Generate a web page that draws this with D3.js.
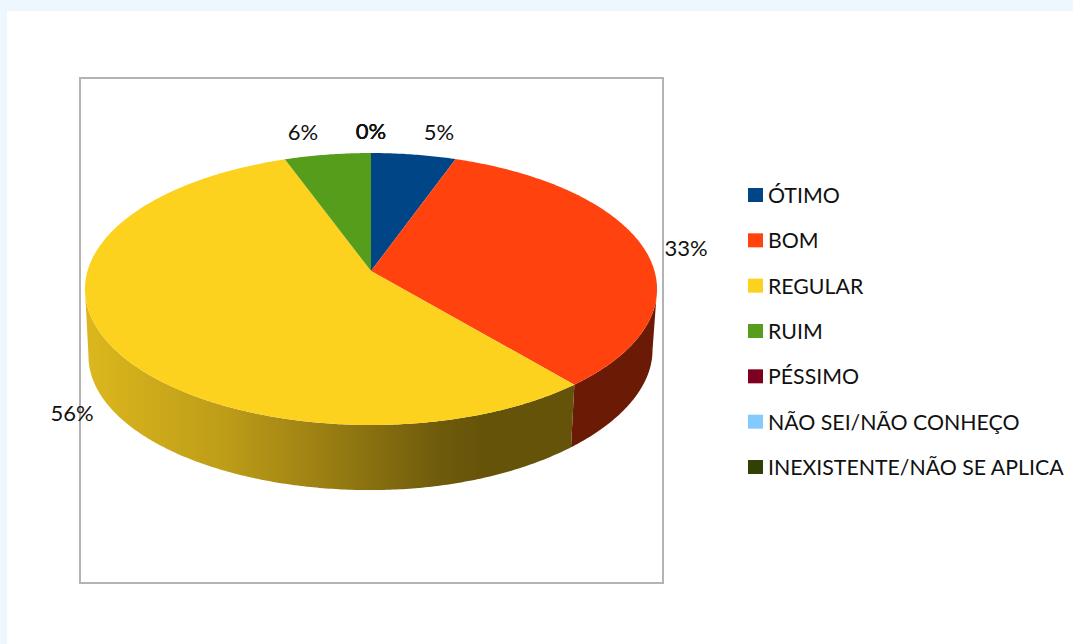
<!DOCTYPE html>
<html><head><meta charset="utf-8">
<script src="https://cdn.jsdelivr.net/npm/d3@7"></script>
<style>html,body{margin:0;padding:0;background:#fff}svg{display:block}text{font-family:Lato,sans-serif;fill:#111}</style>
</head><body>
<script>
const categories=["ÓTIMO","BOM","REGULAR","RUIM","PÉSSIMO","NÃO SEI/NÃO CONHEÇO","INEXISTENTE/NÃO SE APLICA"];
const values=[5.45,33.4,55.6,5.55,0,0,0];
const colors=["#004586","#ff420e","#fdd21f","#579d1c","#7e0021","#83caff","#314004"];
const sideColors=["#002243","#6a1a05",null,"#2b4e0e","#3f0010","#416580","#181f02"];
const labelAnchors=[[439,133],[686,249],[72,414],[303,133],[371,132],[371,132],[371,132]];

const W=1073,H=644;
const svg=d3.select("body").append("svg").attr("width",W).attr("height",H);
svg.append("rect").attr("width",W).attr("height",H).attr("fill","#eef6fe");
svg.append("rect").attr("x",7).attr("y",11).attr("width",W-7).attr("height",H-11).attr("fill","#fff");
svg.append("rect").attr("x",80).attr("y",78).attr("width",583).attr("height",505).attr("fill","#fff").attr("stroke","#b3b3b3").attr("stroke-width",2);

const pie=d3.pie().sort(null).value(d=>d)(values);

// projective view of the disc
const cx=371,apexY=271,a=283.5,b=133.6,k=-0.1325;
const project=(t)=>{const u=Math.sin(t),v=-Math.cos(t),D=1+k*v;return [cx+a*u/D,apexY+b*v/D];};
const depth=65,shrink=282/286,bcx=370.5,ellCy=289;
const projectLow=(t)=>{const p=project(t),dx=(p[0]-cx)*shrink,dy=(p[1]-ellCy)*shrink;
  return [bcx+dx,ellCy+depth+2+dy-7.5e-5*Math.max(0,dx)**2];};
const samples=(s,e,f)=>{const n=Math.max(2,Math.ceil((e-s)/0.01));return d3.range(n+1).map(i=>f(s+(e-s)*i/n));};
const line=d3.line();

const defs=svg.append("defs");
const grad=defs.append("linearGradient").attr("id","sideGrad").attr("gradientUnits","userSpaceOnUse").attr("x1",85).attr("x2",575).attr("y1",0).attr("y2",0);
[[0,"#dcb71d"],[0.29,"#bd9c18"],[0.52,"#957a12"],[0.72,"#6f5b0c"],[0.82,"#655309"],[1,"#655309"]].forEach(s=>grad.append("stop").attr("offset",s[0]).attr("stop-color",s[1]));

// side walls: only the part facing the viewer, between the outline's extreme points
const faceFrom=Math.acos(k),faceTo=2*Math.PI-Math.acos(k);
svg.append("g").selectAll("path").data(pie.filter(d=>d.value>0)).join("path")
 .attr("d",d=>{const s=Math.max(d.startAngle,faceFrom),e=Math.min(d.endAngle,faceTo);
   if(e<=s) return null;
   return line([...samples(s,e,project),...samples(s,e,projectLow).reverse()])+"Z";})
 .attr("fill",d=>sideColors[d.index]||"url(#sideGrad)");

// top faces
svg.append("g").selectAll("path").data(pie.filter(d=>d.value>0)).join("path")
 .attr("d",d=>line([[cx,apexY],...samples(d.startAngle,d.endAngle,project)])+"Z")
 .attr("fill",d=>colors[d.index]);

// labels
const fmt=v=>d3.format(".0f")(v)+"%";
svg.append("g").selectAll("text").data(values).join("text")
 .attr("x",(d,i)=>labelAnchors[i][0]).attr("y",(d,i)=>labelAnchors[i][1]+7)
 .attr("text-anchor","middle").attr("font-size",22).text(fmt);

// legend
const ly=d3.scalePoint().domain(categories).range([195,467]);
const lg=svg.append("g").selectAll("g").data(categories).join("g").attr("transform",d=>`translate(748,${ly(d)})`);
lg.append("rect").attr("y",-7).attr("width",15).attr("height",14).attr("fill",(d,i)=>colors[i]);
lg.append("text").attr("x",20).attr("y",8).attr("font-size",21.3).text(d=>d);
</script>
</body></html>
